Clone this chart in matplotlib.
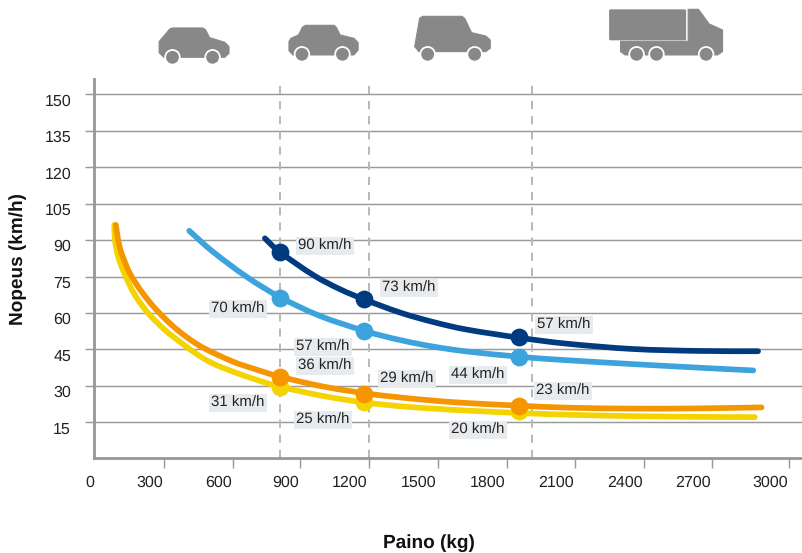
import matplotlib
matplotlib.use("Agg")
import matplotlib.pyplot as plt
from matplotlib.patches import Polygon, Circle, FancyBboxPatch, PathPatch
from matplotlib.path import Path
from matplotlib.transforms import ScaledTranslation

plt.rcParams['font.family'] = ['Liberation Sans', 'DejaVu Sans']
plt.rcParams['text.hinting'] = 'no_hinting'
plt.rcParams['text.hinting_factor'] = 1

# Curves
navy_x = [739, 805, 950, 1066, 1172, 1328, 1473, 1619, 1851, 2055, 2344, 2636, 2890]
navy_y = [90.7, 85, 75.6, 69.8, 65.6, 60.2, 56.3, 53.2, 49.8, 47.4, 45.2, 44.4, 44.3]
blue_x = [409, 512, 659, 805, 979, 1175, 1328, 1473, 1619, 1851, 2055, 2344, 2636, 2869]
blue_y = [93.8, 85.2, 74.9, 66.5, 58.8, 52.6, 48.9, 46.2, 44.2, 42, 40.6, 39, 37.5, 36.4]
orange_x = [89, 99, 114, 150, 201, 259, 332, 405, 478, 600, 700, 805, 992, 1167, 1328, 1473, 1619, 1851,
            2055, 2344, 2636, 2905]
orange_y = [96.2, 90, 84.5, 76.3, 68.8, 62, 55.1, 49.6, 45.3, 40, 36.8, 33.8, 29.8, 27.1, 25.3, 24, 23, 21.9,
            21.1, 20.7, 20.8, 21.2]
yellow_x = [82, 85, 99, 129, 172, 230, 303, 376, 456, 520, 600, 700, 805, 992, 1167, 1328, 1472, 1619, 1851,
            2055, 2344, 2636, 2876]
yellow_y = [96.2, 90, 83.1, 75.6, 67.4, 59.9, 53, 47.6, 42.2, 38.9, 35.9, 32.6, 29.7, 25.9, 23.3, 21.7, 20.7,
            19.9, 18.9, 18.2, 17.6, 17.3, 17.2]

# Dots on the curves
dot_x = [805, 1172, 1847]
navy_dots = [85, 65.8, 50]
blue_dots = [66.2, 52.6, 41.9]
orange_dots = [33.7, 26.7, 21.8]
yellow_dots = [29.7, 23.6, 19.6]

dashed_x = [805, 1193, 1904]

x_ticks = [0, 300, 600, 893, 1193, 1493, 1793, 2092, 2392, 2689, 3027]
x_tick_labels = ['0', '300', '600', '900', '1200', '1500', '1800', '2100', '2400', '2700', '3000']
y_ticks = [15, 30, 45, 60, 75, 90, 105, 120, 135, 150]

# The speed labels: text, centre in pixels
speed_labels = ['90 km/h', '73 km/h', '57 km/h', '70 km/h', '57 km/h', '44 km/h',
                '36 km/h', '29 km/h', '23 km/h', '31 km/h', '25 km/h', '20 km/h']
speed_px = [325, 409, 564, 238, 323, 478, 325, 407, 563, 238, 323, 478]
speed_py = [246, 288, 325, 309, 347, 375, 366, 379, 391, 403, 420, 430]

# Vehicle outlines, measured on a zoomed crop of the header
car1 = [(50, 125), (78, 87), (85, 84), (165, 84), (172, 90), (182, 113), (222, 127), (233, 140), (233, 160),
        (222, 172), (62, 172), (50, 158)]
car2 = [(390, 125), (395, 115), (415, 105), (425, 82), (433, 76), (508, 76), (514, 82), (524, 105), (560, 115),
        (571, 128), (571, 150), (560, 165), (400, 165), (390, 152)]
van = [(732, 55), (740, 49), (843, 49), (850, 55), (868, 98), (905, 108), (917, 120), (917, 145), (905, 155),
       (730, 155), (719, 140)]
truck_cab = [(1435, 28), (1462, 28), (1490, 72), (1525, 90), (1525, 155), (1512, 165), (1270, 165), (1258, 155),
             (1258, 124), (1435, 124)]
car1_wheels = [(85, 172), (190, 172)]
car2_wheels = [(424, 163), (530, 163)]
van_wheels = [(753, 163), (876, 163)]
truck_wheels = [(1300, 163), (1352, 163), (1482, 163)]


def crop_to_px(p):
    return 140 + p[0] * 0.382, p[1] * 0.333


def smooth_path(xs, ys):
    # Catmull-Rom through the read points, as bezier segments
    pts = list(zip(xs, ys))
    verts = [pts[0]]
    codes = [Path.MOVETO]
    for i in range(len(pts) - 1):
        p0 = pts[max(i - 1, 0)]
        p1 = pts[i]
        p2 = pts[i + 1]
        p3 = pts[min(i + 2, len(pts) - 1)]
        c1 = (p1[0] + (p2[0] - p0[0]) / 6, p1[1] + (p2[1] - p0[1]) / 6)
        c2 = (p2[0] - (p3[0] - p1[0]) / 6, p2[1] - (p3[1] - p1[1]) / 6)
        verts += [c1, c2, p2]
        codes += [Path.CURVE4, Path.CURVE4, Path.CURVE4]
    return Path(verts, codes)


W, H = 803, 553
fig = plt.figure(figsize=(W / 100, H / 100), dpi=100)
left, right, top, bottom = 94, 803, 79, 457.5
ax = fig.add_axes([left / W, 1 - bottom / H, (right - left) / W, (bottom - top) / H])
ax.set_xlim(-6.5, 3086)
ax.set_ylim(0.6, 156.2)

ax.set_yticks(y_ticks)
ax.set_xticks(x_ticks)
ax.set_xticklabels(x_tick_labels, ha='right')
ax.grid(axis='y', color='#9a9a9a', lw=1.05)
ax.set_axisbelow(True)
for s in ['top', 'right']:
    ax.spines[s].set_visible(False)
for s in ['left', 'bottom']:
    ax.spines[s].set_color('#979797')
    ax.spines[s].set_linewidth(2)
ax.tick_params(axis='x', length=7.5, width=1.05, color='#9a9a9a', labelsize=11.3, labelcolor='#222222', pad=5.5)
ax.tick_params(axis='y', length=6.5, width=1.05, color='#9a9a9a', labelsize=11.3, labelcolor='#222222', pad=10)
ax.xaxis.get_major_ticks()[0].tick1line.set_visible(False)

# the labels in the original sit off their ticks
for lab in ax.get_xticklabels():
    lab.set_transform(lab.get_transform() + ScaledTranslation(-1.5 / 100, 0, fig.dpi_scale_trans))
for lab in ax.get_yticklabels():
    lab.set_transform(lab.get_transform() + ScaledTranslation(0, -5.5 / 100, fig.dpi_scale_trans))

for dx in dashed_x:
    ax.axvline(dx, color='#b8b8b8', lw=1.4, dashes=(4.2, 3.6), zorder=1.5, clip_on=False)

curves = [(yellow_x, yellow_y, yellow_dots, '#f5d300', 3),
          (orange_x, orange_y, orange_dots, '#f59500', 4),
          (blue_x, blue_y, blue_dots, '#3ca3dd', 3),
          (navy_x, navy_y, navy_dots, '#003b7f', 4)]
for xs, ys, dots, col, z in curves:
    ax.add_patch(PathPatch(smooth_path(xs, ys), fill=False, ec=col, lw=4.1, capstyle='round',
                           joinstyle='round', zorder=z))
    ax.plot(dot_x, dots, 'o', color=col, ms=12.8, mew=0, zorder=z)

# overlay in image pixels for the icons and the free text
over = fig.add_axes([0, 0, 1, 1], facecolor='none')
over.set_xlim(0, W)
over.set_ylim(H, 0)
over.axis('off')

for t, px, py in zip(speed_labels, speed_px, speed_py):
    over.text(px, py, t, ha='center', va='center', fontsize=11, color='#222222',
              bbox=dict(facecolor='#e8ebee', edgecolor='none', pad=1.5))

over.text(429, 543, 'Paino (kg)', ha='center', va='center', fontsize=13.4, fontweight='bold', color='#111111')
over.text(18, 259, 'Nopeus (km/h)', ha='center', va='center', rotation=90, fontsize=13.5, fontweight='bold',
          color='#111111')

ICON = '#888888'


def draw_icon(outline, wheels):
    over.add_patch(Polygon([crop_to_px(p) for p in outline], closed=True, fc=ICON, ec=ICON, lw=0.8,
                           joinstyle='round'))
    for w in wheels:
        over.add_patch(Circle(crop_to_px(w), 8.2, fc='white', ec='none'))
        over.add_patch(Circle(crop_to_px(w), 6.4, fc=ICON, ec='none'))


draw_icon(car1, car1_wheels)
draw_icon(car2, car2_wheels)
draw_icon(van, van_wheels)
draw_icon(truck_cab, truck_wheels)
box_x, box_y = crop_to_px((1228, 28))
over.add_patch(FancyBboxPatch((box_x, box_y), 77, 31, boxstyle='round,pad=0,rounding_size=1.5', fc=ICON,
                              ec='none'))

fig.savefig('out.png', dpi=100)
